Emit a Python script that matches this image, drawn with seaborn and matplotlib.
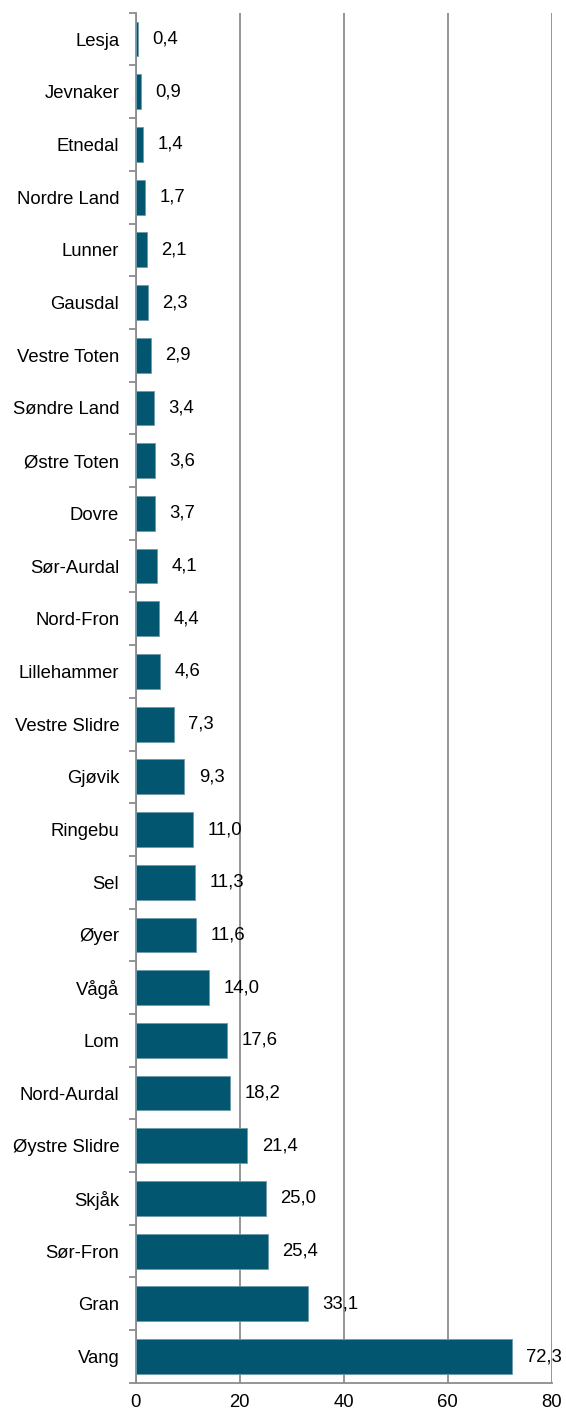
import pandas as pd
import seaborn as sns
import matplotlib.pyplot as plt
from matplotlib.ticker import FixedLocator

kommuner = ["Lesja", "Jevnaker", "Etnedal", "Nordre Land", "Lunner", "Gausdal",
            "Vestre Toten", "Søndre Land", "Østre Toten", "Dovre", "Sør-Aurdal",
            "Nord-Fron", "Lillehammer", "Vestre Slidre", "Gjøvik", "Ringebu", "Sel",
            "Øyer", "Vågå", "Lom", "Nord-Aurdal", "Øystre Slidre", "Skjåk",
            "Sør-Fron", "Gran", "Vang"]
verdier = [0.4, 0.9, 1.4, 1.7, 2.1, 2.3, 2.9, 3.4, 3.6, 3.7, 4.1, 4.4, 4.6,
           7.3, 9.3, 11.0, 11.3, 11.6, 14.0, 17.6, 18.2, 21.4, 25.0, 25.4, 33.1, 72.3]
x_ticks = [0, 20, 40, 60, 80]

df = pd.DataFrame({"kommune": kommuner, "verdi": verdier})

sns.set_style("white")
plt.rcParams["font.family"] = ["Liberation Sans", "DejaVu Sans"]
plt.rcParams["text.color"] = "black"
plt.rcParams["xtick.labelcolor"] = "black"
plt.rcParams["ytick.labelcolor"] = "black"

grey = "#8c8c8c"
fs = 13.3
fig = plt.figure(figsize=(5.66, 14.14), dpi=100)
ax = fig.add_axes([0.240, 0.022, 0.735, 0.969])

sns.barplot(data=df, x="verdi", y="kommune", orient="h", color="#03566f",
            saturation=1, width=0.66, edgecolor="#6f9aab", linewidth=0.6,
            ax=ax, zorder=3)

ax.set_xlim(0, 80)
ax.set_ylim(len(kommuner) - 0.5, -0.5)
ax.set_xticks(x_ticks)
ax.xaxis.grid(True, color=grey, linewidth=1.3, zorder=0)
ax.yaxis.grid(False)
ax.set_xlabel("")
ax.set_ylabel("")

for s in ["top", "right"]:
    ax.spines[s].set_visible(False)
for s in ["left", "bottom"]:
    ax.spines[s].set_color(grey)
    ax.spines[s].set_linewidth(1.3)

ax.tick_params(axis="x", length=5, width=1.3, color=grey, labelsize=fs, pad=3)
ax.tick_params(axis="y", which="major", length=0, labelsize=fs, pad=12)
ax.yaxis.set_minor_locator(FixedLocator([i - 0.5 for i in range(len(kommuner) + 1)]))
ax.tick_params(axis="y", which="minor", length=5, width=1.3, color=grey, left=True)

for i, v in enumerate(verdier):
    ax.annotate(f"{v:.1f}".replace(".", ","), xy=(v, i), xytext=(10.5, 0),
                textcoords="offset points", va="center", ha="left", fontsize=fs,
                color="black", zorder=4)

fig.savefig("out.png", dpi=100)
